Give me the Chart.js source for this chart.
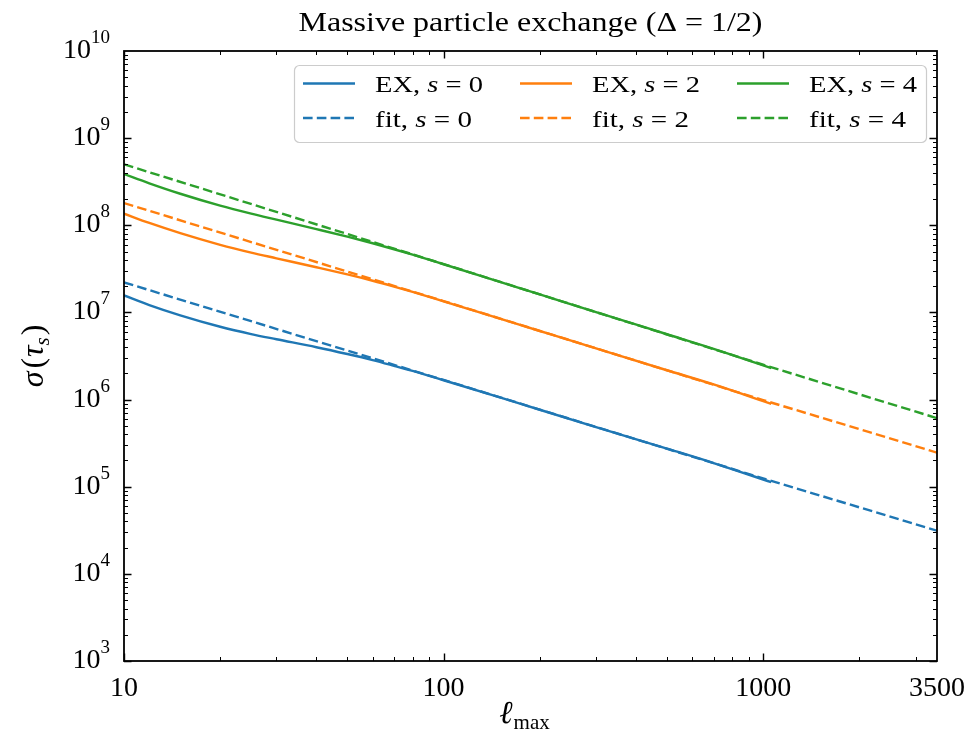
<!DOCTYPE html>
<html>
<head>
<meta charset="utf-8">
<script src="https://cdn.jsdelivr.net/npm/chart.js@4.4.0/dist/chart.umd.min.js"></script>
<style>
  body { margin: 0; background: #fff; }
  #caixa { width: 975px; height: 740px; }
</style>
</head>
<body>
<div id="caixa"><canvas id="grafico" width="975" height="740"></canvas></div>
<script>
// valores (eixos log-log)
const lmaxEX = [10, 12, 15, 20, 25, 30, 40, 50, 60, 70, 80, 100, 150, 200, 300, 500, 700, 1060];
const exS0 = [1.57e7, 1.216e7, 9.27e6, 6.85e6, 5.64e6, 4.92e6, 3.99e6, 3.33e6, 2.84e6, 2.44e6, 2.13e6, 1.667e6, 1.059e6, 7.64e5, 4.84e5, 2.74e5, 1.87e5, 1.127e5];
const exS2 = [1.36e8, 1.064e8, 8.13e7, 5.97e7, 4.86e7, 4.18e7, 3.30e7, 2.73e7, 2.31e7, 1.98e7, 1.72e7, 1.34e7, 8.47e6, 6.12e6, 3.87e6, 2.17e6, 1.49e6, 8.93e5];
const exS4 = [3.87e8, 3.03e8, 2.30e8, 1.68e8, 1.36e8, 1.16e8, 9.04e7, 7.41e7, 6.22e7, 5.31e7, 4.60e7, 3.57e7, 2.24e7, 1.61e7, 1.01e7, 5.62e6, 3.82e6, 2.30e6];

const lmaxFit = [10, 100, 1000, 3500];
const fitS0 = [2.21e7, 1.68e6, 1.245e5, 3.13e4];
const fitS2 = [1.80e8, 1.35e7, 9.86e5, 2.46e5];
const fitS4 = [5.01e8, 3.59e7, 2.51e6, 6.12e5];

const valoresS = ['0', '2', '4'];
const cores = ['#1f77b4', '#ff7f0e', '#2ca02c'];

const xTicks = [10, 100, 1000, 3500];
const xTickLabels = ['10', '100', '1000', '3500'];
const yTicks = [1e3, 1e4, 1e5, 1e6, 1e7, 1e8, 1e9, 1e10];
const yTickExp = ['3', '4', '5', '6', '7', '8', '9', '10'];

const FONTE = '"Liberation Serif", "DejaVu Serif", serif';
const TRACO = [9.6, 4.2];

function pontos(xs, ys) {
    return xs.map((x, i) => ({ x: x, y: ys[i] }));
}

function serie(nome, xs, ys, cor, tracejado) {
    return {
        label: nome,
        data: pontos(xs, ys),
        borderColor: cor,
        borderWidth: 2.4,
        borderDash: tracejado ? TRACO : [],
        pointRadius: 0,
        fill: false,
        cubicInterpolationMode: tracejado ? 'default' : 'monotone',
        tension: 0
    };
}

// desenha pedaços de texto (normal / itálico / índice) em sequência
function textoMisto(ctx, partes, x, y, alinhar, larguraAlvo) {
    let total = 0;
    partes.forEach(p => {
        ctx.font = (p.it ? 'italic ' : '') + p.tam + 'px ' + FONTE;
        p.w = ctx.measureText(p.t).width + (p.pad || 0);
        total += p.w;
    });
    const k = larguraAlvo ? larguraAlvo / total : 1;
    let x0 = x;
    if (alinhar === 'center') x0 = x - total * k / 2;
    if (alinhar === 'right') x0 = x - total * k;
    ctx.save();
    ctx.translate(x0, y);
    ctx.scale(k, 1);
    ctx.textAlign = 'left';
    ctx.textBaseline = 'alphabetic';
    ctx.fillStyle = '#000';
    let cx = 0;
    partes.forEach(p => {
        ctx.font = (p.it ? 'italic ' : '') + p.tam + 'px ' + FONTE;
        ctx.fillText(p.t, cx, p.dy || 0);
        cx += p.w;
    });
    ctx.restore();
}

const eixosPlugin = {
    id: 'eixosPlugin',
    afterDatasetsDraw(chart) {
        const ctx = chart.ctx;
        const a = chart.chartArea;
        const sx = chart.scales.x;
        const sy = chart.scales.y;

        ctx.save();
        ctx.strokeStyle = '#000';

        // ticks para dentro nos quatro lados
        for (let d = 3; d <= 9; d++) {
            for (let m = 1; m <= 9; m++) {
                const py = Math.round(sy.getPixelForValue(m * Math.pow(10, d))) + 0.5;
                const len = m === 1 ? 7.5 : 4;
                ctx.lineWidth = m === 1 ? 1.4 : 1;
                ctx.beginPath();
                ctx.moveTo(a.left, py); ctx.lineTo(a.left + len, py);
                ctx.moveTo(a.right, py); ctx.lineTo(a.right - len, py);
                ctx.stroke();
            }
        }
        for (let d = 1; d <= 3; d++) {
            for (let m = 1; m <= 9; m++) {
                const v = m * Math.pow(10, d);
                if (v > 3500) break;
                const px = Math.round(sx.getPixelForValue(v)) + 0.5;
                const len = m === 1 ? 7.5 : 4;
                ctx.lineWidth = m === 1 ? 1.4 : 1;
                ctx.beginPath();
                ctx.moveTo(px, a.bottom); ctx.lineTo(px, a.bottom - len);
                ctx.moveTo(px, a.top); ctx.lineTo(px, a.top + len);
                ctx.stroke();
            }
        }

        ctx.lineWidth = 1.8;
        ctx.strokeRect(a.left, a.top, a.right - a.left, a.bottom - a.top);

        // rótulos dos ticks
        xTicks.forEach((v, i) => {
            textoMisto(ctx, [{ t: xTickLabels[i], tam: 28 }], sx.getPixelForValue(v), 696, 'center');
        });
        yTicks.forEach((v, i) => {
            const py = sy.getPixelForValue(v);
            textoMisto(ctx, [{ t: '10', tam: 28 }, { t: yTickExp[i], tam: 19, dy: -15 }], 110, py + 7, 'right');
        });

        // legenda
        const L = { x: 294, y: 65, w: 632, h: 77 };
        ctx.beginPath();
        ctx.roundRect(L.x + 0.5, L.y + 0.5, L.w, L.h, 5);
        ctx.fillStyle = 'rgba(255,255,255,0.8)';
        ctx.fill();
        ctx.strokeStyle = '#cccccc';
        ctx.lineWidth = 1.2;
        ctx.stroke();

        const colX = [303, 520, 737];
        const linhaY = [83.5, 118];
        chart.data.datasets.forEach((ds, i) => {
            const col = Math.floor(i / 2);
            const lin = i % 2;
            const x0 = colX[col];
            const y0 = linhaY[lin];
            ctx.save();
            ctx.strokeStyle = ds.borderColor;
            ctx.lineWidth = ds.borderWidth;
            ctx.setLineDash(ds.borderDash);
            ctx.beginPath();
            ctx.moveTo(x0, y0); ctx.lineTo(x0 + 52, y0);
            ctx.stroke();
            ctx.restore();
            const nome = lin === 0 ? 'EX, ' : 'fit, ';
            textoMisto(ctx, [
                { t: nome, tam: 23 },
                { t: 's', tam: 23, it: true },
                { t: ' = ' + valoresS[col], tam: 23 }
            ], x0 + 72, y0 + 8.5, 'left', lin === 0 ? 108 : 97);
        });

        // título e rótulos dos eixos
        const cxEixo = (a.left + a.right) / 2;
        textoMisto(ctx, [{ t: 'Massive particle exchange (Δ = 1/2)', tam: 27 }], cxEixo, 31, 'center', 464);

        textoMisto(ctx, [{ t: 'ℓ', tam: 32, it: true, pad: 1 }, { t: 'max', tam: 21, dy: 6 }], cxEixo - 6, 723, 'center');

        ctx.translate(43, (a.top + a.bottom) / 2);
        ctx.rotate(-Math.PI / 2);
        textoMisto(ctx, [
            { t: 'σ', tam: 32, it: true, pad: 3 },
            { t: '(', tam: 32, pad: 1 },
            { t: 'τ', tam: 32, it: true },
            { t: 's', tam: 21, it: true, dy: 6, pad: 2 },
            { t: ')', tam: 32 }
        ], 0, 0, 'center');
        ctx.restore();
    }
};

const dados = {
    datasets: [
        serie('EX, s = 0', lmaxEX, exS0, cores[0], false),
        serie('fit, s = 0', lmaxFit, fitS0, cores[0], true),
        serie('EX, s = 2', lmaxEX, exS2, cores[1], false),
        serie('fit, s = 2', lmaxFit, fitS2, cores[1], true),
        serie('EX, s = 4', lmaxEX, exS4, cores[2], false),
        serie('fit, s = 4', lmaxFit, fitS4, cores[2], true)
    ]
};

const config = {
    type: 'line',
    data: dados,
    options: {
        responsive: false,
        animation: false,
        devicePixelRatio: 1,
        layout: { padding: { left: 124, right: 38, top: 51, bottom: 79 } },
        plugins: {
            legend: { display: false },
            tooltip: { enabled: false }
        },
        scales: {
            x: { type: 'logarithmic', min: 10, max: 3500, display: false },
            y: { type: 'logarithmic', min: 1e3, max: 1e10, display: false }
        }
    },
    plugins: [eixosPlugin]
};

let grafico = new Chart(document.getElementById('grafico'), config);
</script>
</body>
</html>
